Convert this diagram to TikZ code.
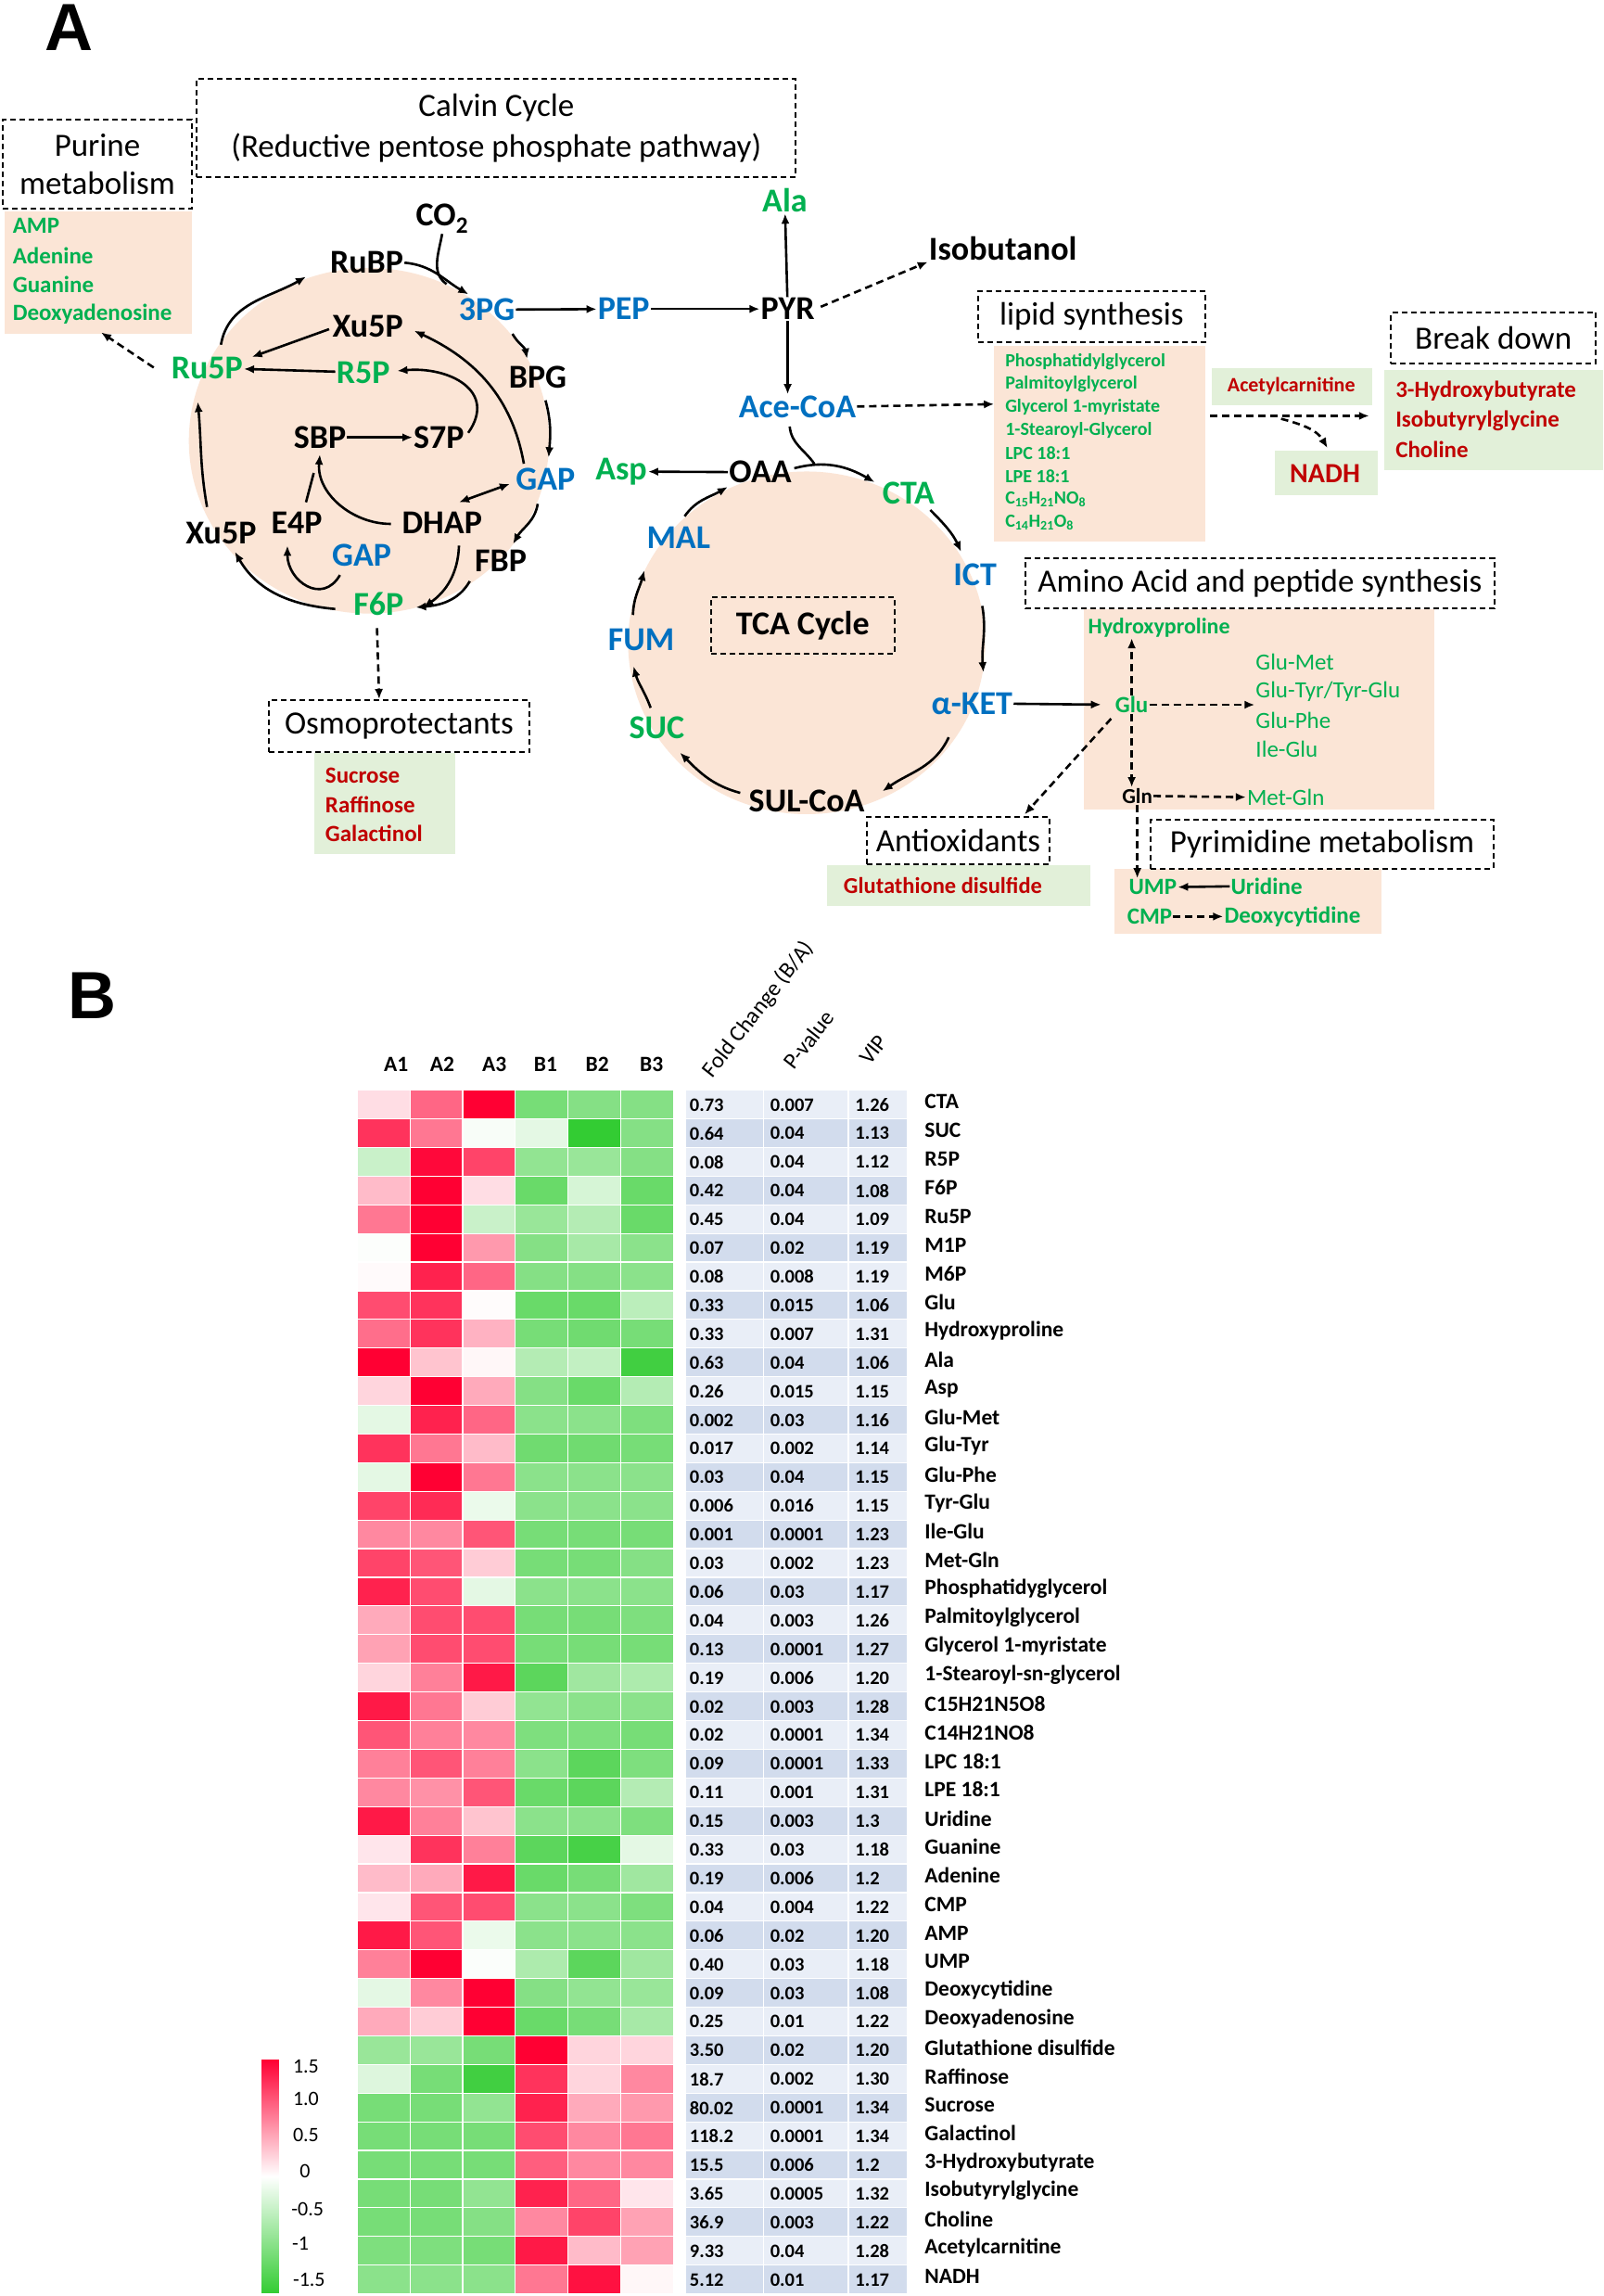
\documentclass[tikz,border=0pt]{standalone}
\usepackage{fontspec}
\setmainfont{Carlito}
\newfontfamily\arialf{Liberation Sans}
\usetikzlibrary{arrows.meta}
\definecolor{cgreen}{RGB}{0,176,80}
\definecolor{cblue}{RGB}{0,112,192}
\definecolor{cred}{RGB}{192,0,0}
\definecolor{peach}{RGB}{251,229,214}
\definecolor{lgreen}{RGB}{226,240,217}
\definecolor{hmr}{RGB}{255,0,51}
\definecolor{hmg}{RGB}{51,204,51}
\definecolor{tblA}{RGB}{233,238,247}
\definecolor{tblB}{RGB}{210,220,237}
\newcommand\fsz[1]{\fontsize{#1}{#1}\selectfont}
\begin{document}
\begin{tikzpicture}[x=1.579pt,y=-1.579pt,
  arr/.style={line width=2.6pt,-{Latex[length=11pt,width=9pt]}},
  darr/.style={arr,dash pattern=on 8pt off 5pt},
  ln/.style={line width=2.6pt},
  dbox/.style={draw,line width=2pt,dash pattern=on 6pt off 4pt,inner sep=0pt},
  hdr/.style={font=\fontsize{35}{42}\selectfont,align=center},
  met/.style={font=\fsz{36}\bfseries,inner sep=1pt},
  mK/.style={met},
  mB/.style={met,text=cblue},
  mG/.style={met,text=cgreen},
  gB/.style={font=\fsz{25}\bfseries,text=cgreen,inner sep=1pt},
  gR/.style={font=\fsz{25},text=cgreen,inner sep=1pt},
  rB/.style={font=\fsz{25}\bfseries,text=cred,inner sep=1pt},
  num/.style={font=\fsz{20.5}\bfseries,inner sep=0pt,anchor=west},
  rowlab/.style={font=\fsz{23.5}\bfseries,inner sep=0pt,anchor=west},
  colh/.style={font=\fsz{23.5}\bfseries,inner sep=0pt},
  roth/.style={font=\fsz{24.5},inner sep=0pt,anchor=base west,rotate=52},
  cbl/.style={font=\fsz{22},inner sep=0pt,anchor=west},
]
\fill[white] (0,0) rectangle (1095,1568);
\useasboundingbox (0,0) rectangle (1095,1568);

% panel letters
\node[font=\arialf\bfseries\fsz{72},inner sep=0pt] (labA) at (47,19) {A};
\node[font=\arialf\bfseries\fsz{72},inner sep=0pt] (labB) at (63,680) {B};

% ---------- backgrounds ----------
\fill[peach] (3,144.5) rectangle (131,228);
\fill[peach] (252,301) ellipse [x radius=123, y radius=118];
\fill[peach] (551,439) ellipse [x radius=122, y radius=117];
\fill[lgreen] (214.5,514.5) rectangle (310.8,583.3);
\fill[peach] (678.7,236) rectangle (823.3,369.7);
\fill[lgreen] (827.5,251.2) rectangle (937.3,276.6);
\fill[lgreen] (945.4,252.9) rectangle (1095,321.2);
\fill[lgreen] (870.8,307.8) rectangle (941.1,338.4);
\fill[peach] (740,416) rectangle (979.6,553);
\fill[lgreen] (565,591) rectangle (745,619);
\fill[peach] (761,593.5) rectangle (943.6,637.5);

% ---------- dashed boxes ----------
\node[dbox,hdr,minimum width=203.7pt,minimum height=96.3pt,font=\fontsize{35}{41}\selectfont] (purbox) at (66.5,112) {Purine\\metabolism};
\node[dbox,hdr,minimum width=646pt,minimum height=105.8pt,font=\fontsize{35}{44}\selectfont] (calvin) at (339,87.5) {Calvin Cycle\\(Reductive pentose phosphate pathway)};
\node[dbox,hdr,minimum width=281.2pt,minimum height=56.4pt] (osmo) at (272.6,496) {Osmoprotectants};
\node[dbox,hdr,minimum width=245.2pt,minimum height=54.6pt] (lipid) at (745.6,216.2) {lipid synthesis};
\node[dbox,hdr,minimum width=221pt,minimum height=55.4pt] (brk) at (1020,231) {Break down};
\node[dbox,hdr,minimum width=505.6pt,minimum height=54.5pt] (amino) at (860.5,398.3) {Amino Acid and peptide synthesis};
\node[dbox,minimum width=198pt,minimum height=61pt,font=\fsz{36}\bfseries] (tca) at (548.3,427.2) {TCA Cycle};
\node[dbox,hdr,minimum width=197.4pt,minimum height=50.5pt] (antiox) at (654.5,574) {Antioxidants};
\node[dbox,hdr,minimum width=369.5pt,minimum height=53pt] (pyrim) at (903,576.3) {Pyrimidine metabolism};

% ---------- lists ----------
\foreach \t [count=\k from 0] in {AMP,Adenine,Guanine,Deoxyadenosine}
  \node[gB,anchor=west] (pur\k) at (8,{154.4+\k*20}) {\t};
\foreach \t [count=\k from 0] in {Sucrose,Raffinose,Galactinol}
  \node[rB,anchor=west] (osm\k) at (221.5,{529.9+\k*19.8}) {\t};
\foreach \t [count=\k from 0] in {Phosphatidylglycerol,Palmitoylglycerol,Glycerol 1-myristate,1-Stearoyl-Glycerol,LPC 18:1,LPE 18:1,C\textsubscript{15}H\textsubscript{21}NO\textsubscript{8},C\textsubscript{14}H\textsubscript{21}O\textsubscript{8}}
  \node[font=\fsz{20}\bfseries,text=cgreen,inner sep=0pt,anchor=west] (lip\k) at (686.5,{246.8+\k*15.74}) {\t};
\node[font=\fsz{22}\bfseries,text=cred,inner sep=0pt] (acar) at (882,263.5) {Acetylcarnitine};
\foreach \t [count=\k from 0] in {3-Hydroxybutyrate,Isobutyrylglycine,Choline}
  \node[rB,anchor=west] (brk\k) at (952.5,{267.2+\k*20}) {\t};
\node[font=\fsz{30}\bfseries,text=cred,inner sep=0pt] (nadh) at (905,323.5) {NADH};
\node[font=\fsz{24.5}\bfseries,text=cred,inner sep=0pt] (gsh) at (644,605) {Glutathione disulfide};

% amino acids
\node[font=\fsz{24}\bfseries,text=cgreen,inner sep=1pt,anchor=west] (hyp) at (742.5,428.5) {Hydroxyproline};
\node[font=\fsz{25}\bfseries,text=cgreen,inner sep=1pt] (glu) at (773,481.3) {Glu};
\node[gR,anchor=west] (gmet) at (857,452.2) {Glu-Met};
\node[gR,anchor=west] (gtyr) at (857,472.4) {Glu-Tyr/Tyr-Glu};
\node[gR,anchor=west] (gphe) at (857,491.9) {Glu-Phe};
\node[gR,anchor=west] (iglu) at (857,511.9) {Ile-Glu};
\node[font=\fsz{23}\bfseries,inner sep=1pt] (gln) at (776.8,543.6) {Gln};
\node[gR,anchor=west] (mgln) at (851,544.4) {Met-Gln};
\node[gB] (ump) at (787.4,605.8) {UMP};
\node[gB,anchor=west] (urid) at (840,605.3) {Uridine};
\node[gB] (cmp) at (785.3,625.9) {CMP};
\node[gB,anchor=west] (dcyt) at (835.5,625.9) {Deoxycytidine};

% ---------- metabolites ----------
\node[mK] (co2) at (302,149) {CO\textsubscript{2}};
\node[mK] (rubp) at (250.5,179.4) {RuBP};
\node[mK] (xu5pT) at (251.2,222.7) {Xu5P};
\node[mG] (ru5p) at (141.4,251.2) {Ru5P};
\node[mG] (r5p) at (248,254.4) {R5P};
\node[mK] (bpg) at (367.3,257.8) {BPG};
\node[mK] (sbp) at (218.5,298.7) {SBP};
\node[mK] (s7p) at (299.8,298.7) {S7P};
\node[mB] (gapR) at (372.6,327.2) {GAP};
\node[mK] (xu5pB) at (151,364.2) {Xu5P};
\node[mK] (e4p) at (202.7,356.8) {E4P};
\node[mK] (dhap) at (301.9,356.8) {DHAP};
\node[mB] (gapL) at (247,379) {GAP};
\node[mK] (fbp) at (342,383.2) {FBP};
\node[mG] (f6p) at (258.6,412.7) {F6P};
\node[mB] (pg3) at (332.5,211.5) {3PG};
\node[mB] (pep) at (426,211) {PEP};
\node[mK] (pyr) at (538,211) {PYR};
\node[mG] (ala) at (536,137) {Ala};
\node[mK] (isob) at (685,170) {Isobutanol};
\node[mB] (acoa) at (544.6,277.6) {Ace-CoA};
\node[mG] (asp) at (424.3,322) {Asp};
\node[mK] (oaa) at (519.3,322.5) {OAA};
\node[mG] (cta) at (620.6,336.7) {CTA};
\node[mB] (ict) at (666,392.7) {ICT};
\node[mB] (akg) at (663.9,480.6) {α-KET};
\node[mK] (sul) at (551,546.8) {SUL-CoA};
\node[mG] (suc) at (448.6,497.2) {SUC};
\node[mB] (fum) at (438,437) {FUM};
\node[mB] (mal) at (463.4,367.3) {MAL};

% ---------- Calvin connectors ----------
\coordinate (j1) at (305,194);
\draw[ln] (co2.south) to[out=-100,in=145] (j1);
\draw[arr] (rubp.east) to[out=-5,in=150] (320,201);
\draw[arr] (pg3) -- (pep);
\draw[arr] (pep) -- (pyr);
\draw[arr] (pyr) -- (ala);
\draw[arr] (pyr.south) -- (pyr.south |- acoa.north);
\draw[darr,shorten <=6pt] (pyr.east) -- (isob.south west);
\draw[arr] (350,228) to[out=-60,in=100] (360,245);
\draw[arr] (372.6,273.4) to[out=-75,in=85] (374.7,312.4);
\draw[arr] (367.3,344.1) to[out=-100,in=60] (350.4,371.5);
\draw[arr] (320.9,396.9) to[out=-120,in=5] (284,414.8);
\draw[arr] (313.5,372.6) to[out=-92,in=35] (289.2,414.8);
\draw[line width=2.6pt,{Latex[length=11pt,width=9pt]}-{Latex[length=11pt,width=9pt]}] (348.3,330.4) -- (313.5,343);
\draw[arr] (267,357.8) to[out=180,in=-95] (218.5,310.3);
\draw[ln] (209,343) -- (214.3,323);
\draw[arr] (sbp) -- (s7p);
\draw[arr] (319.8,295.6) to[out=55,in=5,looseness=1.4] (271.3,253.3);
\draw[arr] (357.8,316.7) to[out=100,in=-25] (282.9,225.9);
\draw[arr] (r5p) -- (ru5p);
\draw[arr] (224.8,224.8) -- (172,243.8);
\draw[arr] (150.9,235.4) to[out=80,in=-150] (209,189);
\draw[arr] (141.4,346.2) to[out=100,in=-85] (135.1,274.4);
\draw[arr] (229,415.9) to[out=175,in=-60] (160.4,376.8);
\draw[arr] (232.2,392.7) to[out=-120,in=-90,looseness=1.5] (196.3,372.6);
\draw[darr] (105,251) -- (69,227);
\draw[darr] (257.5,429) -- (osmo.north -| 259,0);

% ---------- TCA connectors ----------
\coordinate (lipL) at (679,276);
\draw[darr] (acoa.east) -- (lipL);
\draw[ln] (539.4,291.3) to[out=-85,in=125] (556.2,316.7);
\draw[arr] (542.5,319.8) to[out=15,in=150] (597.4,329.3);
\draw[arr] (oaa) -- (asp);
\draw[arr] (635.4,348.3) to[out=-45,in=115] (656.5,376.8);
\draw[arr] (670.9,413.8) to[out=-80,in=95] (671.7,459.2);
\draw[arr] (648,503.5) to[out=-115,in=35] (602.7,540.4);
\draw[arr] (505.6,541.5) to[out=165,in=-45] (464.4,514);
\draw[arr] (444.4,483.4) to[out=110,in=-75] (432.7,455);
\draw[arr] (432.3,420) to[out=88,in=-105] (440.1,389.5);
\draw[arr] (467.6,352.6) to[out=55,in=-150] (497.1,332.5);
\draw[arr,shorten >=14pt] (akg.east) -- (glu.west);

% break down
\draw[darr] (826.5,284) -- (935.2,284);
\draw[darr] (875,286) to[out=-15,in=120] (906.7,306);

% amino acid region
\draw[darr] (glu.north) -- (glu.north |- hyp.south);
\draw[darr] (glu.east) -- (glu.east -| gtyr.west);
\draw[darr] (glu.south) -- (glu.south |- gln.north);
\draw[darr] (758.9,490.8) -- (699.8,556.2);
\draw[darr] (gln.east) -- (mgln.west);
\draw[darr] (gln.south) -- (gln.south |- ump.north);
\draw[arr] (urid.west) -- (ump.east);
\draw[darr] (cmp.east) -- (dcyt.west);

% ---------- Panel B heatmap ----------
\foreach \t/\xx [count=\k] in {A1/270.5,A2/302,A3/337.6,B1/372.6,B2/408,B3/445}
  \node[colh] (ch\k) at (\xx,727) {\t};
\node[roth] (hfc) at (486.6,736.7) {Fold Change (B/A)};
\node[roth] (hpv) at (542.5,731.5) {P-value};
\node[roth] (hvip) at (594.2,728.3) {VIP};

\foreach \nm/\va/\vb/\vc/\vd/\ve/\vf/\fc/\pv/\vip [count=\i from 0] in {
CTA/0.2/0.9/1.5/-1.0/-0.9/-0.9/0.73/0.007/1.26,
SUC/1.2/0.8/-0.05/-0.2/-1.5/-0.9/0.64/0.04/1.13,
R5P/-0.4/1.45/1.1/-0.8/-0.75/-0.9/0.08/0.04/1.12,
F6P/0.4/1.5/0.2/-1.1/-0.3/-1.1/0.42/0.04/1.08,
Ru5P/0.8/1.5/-0.4/-0.75/-0.55/-1.1/0.45/0.04/1.09,
M1P/-0.02/1.5/0.6/-0.9/-0.65/-0.85/0.07/0.02/1.19,
M6P/0.03/1.3/0.9/-0.9/-0.9/-0.85/0.08/0.008/1.19,
Glu/1.05/1.2/0.02/-1.1/-1.1/-0.5/0.33/0.015/1.06,
Hydroxyproline/0.85/1.2/0.45/-1.0/-1.05/-1.0/0.33/0.007/1.31,
Ala/1.5/0.35/0.05/-0.55/-0.45/-1.4/0.63/0.04/1.06,
Asp/0.25/1.5/0.5/-0.9/-1.1/-0.55/0.26/0.015/1.15,
Glu-Met/-0.2/1.3/0.9/-0.85/-0.85/-0.95/0.002/0.03/1.16,
Glu-Tyr/1.2/0.8/0.4/-1.05/-1.05/-1.0/0.017/0.002/1.14,
Glu-Phe/-0.2/1.5/0.8/-0.85/-0.85/-0.85/0.03/0.04/1.15,
Tyr-Glu/1.1/1.25/-0.15/-0.85/-0.85/-0.85/0.006/0.016/1.15,
Ile-Glu/0.7/0.7/1.0/-1.0/-1.0/-1.0/0.001/0.0001/1.23,
Met-Gln/1.1/1.0/0.3/-1.0/-1.0/-0.9/0.03/0.002/1.23,
Phosphatidyglycerol/1.3/1.05/-0.2/-0.85/-0.85/-0.85/0.06/0.03/1.17,
Palmitoylglycerol/0.5/1.05/1.05/-1.0/-1.0/-0.95/0.04/0.003/1.26,
Glycerol 1-myristate/0.55/1.05/1.05/-1.0/-1.0/-1.0/0.13/0.0001/1.27,
1-Stearoyl-sn-glycerol/0.25/0.75/1.35/-1.2/-0.7/-0.6/0.19/0.006/1.20,
C15H21N5O8/1.35/0.8/0.3/-0.8/-0.85/-0.85/0.02/0.003/1.28,
C14H21NO8/1.0/0.75/0.7/-0.95/-0.95/-1.0/0.02/0.0001/1.34,
LPC 18:1/0.75/1.0/0.75/-0.85/-1.2/-0.95/0.09/0.0001/1.33,
LPE 18:1/0.7/0.65/1.0/-1.1/-1.2/-0.55/0.11/0.001/1.31,
Uridine/1.35/0.75/0.35/-0.85/-0.85/-0.95/0.15/0.003/1.3,
Guanine/0.15/1.2/0.75/-1.2/-1.35/-0.2/0.33/0.03/1.18,
Adenine/0.4/0.5/1.35/-1.1/-1.0/-0.7/0.19/0.006/1.2,
CMP/0.15/1.0/1.05/-0.85/-0.85/-0.95/0.04/0.004/1.22,
AMP/1.35/1.0/-0.15/-0.85/-0.85/-0.85/0.06/0.02/1.20,
UMP/0.75/1.5/-0.03/-0.6/-1.2/-0.7/0.40/0.03/1.18,
Deoxycytidine/-0.2/0.7/1.5/-0.9/-0.8/-0.75/0.09/0.03/1.08,
Deoxyadenosine/0.5/0.3/1.5/-1.1/-1.0/-0.65/0.25/0.01/1.22,
Glutathione disulfide/-0.75/-0.75/-1.0/1.5/0.25/0.25/3.50/0.02/1.20,
Raffinose/-0.25/-1.0/-1.4/1.2/0.25/0.7/18.7/0.002/1.30,
Sucrose/-1.0/-1.0/-0.8/1.3/0.5/0.6/80.02/0.0001/1.34,
Galactinol/-1.0/-1.0/-1.0/1.05/0.7/0.8/118.2/0.0001/1.34,
3-Hydroxybutyrate/-1.0/-1.0/-1.0/0.95/0.7/0.7/15.5/0.006/1.2,
Isobutyrylglycine/-1.0/-1.0/-0.8/1.3/0.9/0.15/3.65/0.0005/1.32,
Choline/-1.0/-1.0/-0.9/0.7/1.1/0.55/36.9/0.003/1.22,
Acetylcarnitine/-0.95/-0.95/-1.0/1.35/0.4/0.55/9.33/0.04/1.28,
NADH/-0.85/-0.85/-0.85/0.8/1.4/0.05/5.12/0.01/1.17}{
  \pgfmathsetmacro\yy{744.5+\i*19.57}
  \pgfmathtruncatemacro\odd{mod(\i,2)}
  \ifnum\odd=0 \def\tc{tblA}\else\def\tc{tblB}\fi
  \filldraw[fill=\tc,draw=white,line width=1.2pt] (468,\yy) rectangle (620,\yy+19.57);
  \foreach \v [count=\j from 0] in {\va,\vb,\vc,\vd,\ve,\vf}{
    \pgfmathsetmacro\pp{min(100,abs(\v)/1.5*100)}
    \ifdim \v pt<0pt \def\hc{hmg}\else\def\hc{hmr}\fi
    \filldraw[fill=\hc!\pp!white,draw=white,line width=1.2pt] ({244+\j*36},\yy) rectangle ++(36,19.57);
  }
  \node[num] (fc\i) at (471,\yy+10) {\fc};
  \node[num] (pv\i) at (526,\yy+10) {\pv};
  \node[num] (vp\i) at (584,\yy+10) {\vip};
  \node[rowlab] (rl\i) at (631.5,\yy+8) {\nm};
}
\draw[white,line width=1.8pt] (521.5,744.5) -- (521.5,1566.5) (579.5,744.5) -- (579.5,1566.5);

% colour bar
\shade[top color=hmr,bottom color=hmg,middle color=white] (178.6,1406.6) rectangle (190.6,1566);
\node[cbl] (cb1) at (200,1411) {1.5};
\node[cbl] (cb2) at (200,1433.6) {1.0};
\node[cbl] (cb3) at (200,1458) {0.5};
\node[cbl] (cb4) at (204.6,1482.5) {0};
\node[cbl] (cb5) at (199,1509) {-0.5};
\node[cbl] (cb6) at (199.5,1532.4) {-1};
\node[cbl] (cb7) at (200,1556.7) {-1.5};
\end{tikzpicture}
\end{document}
